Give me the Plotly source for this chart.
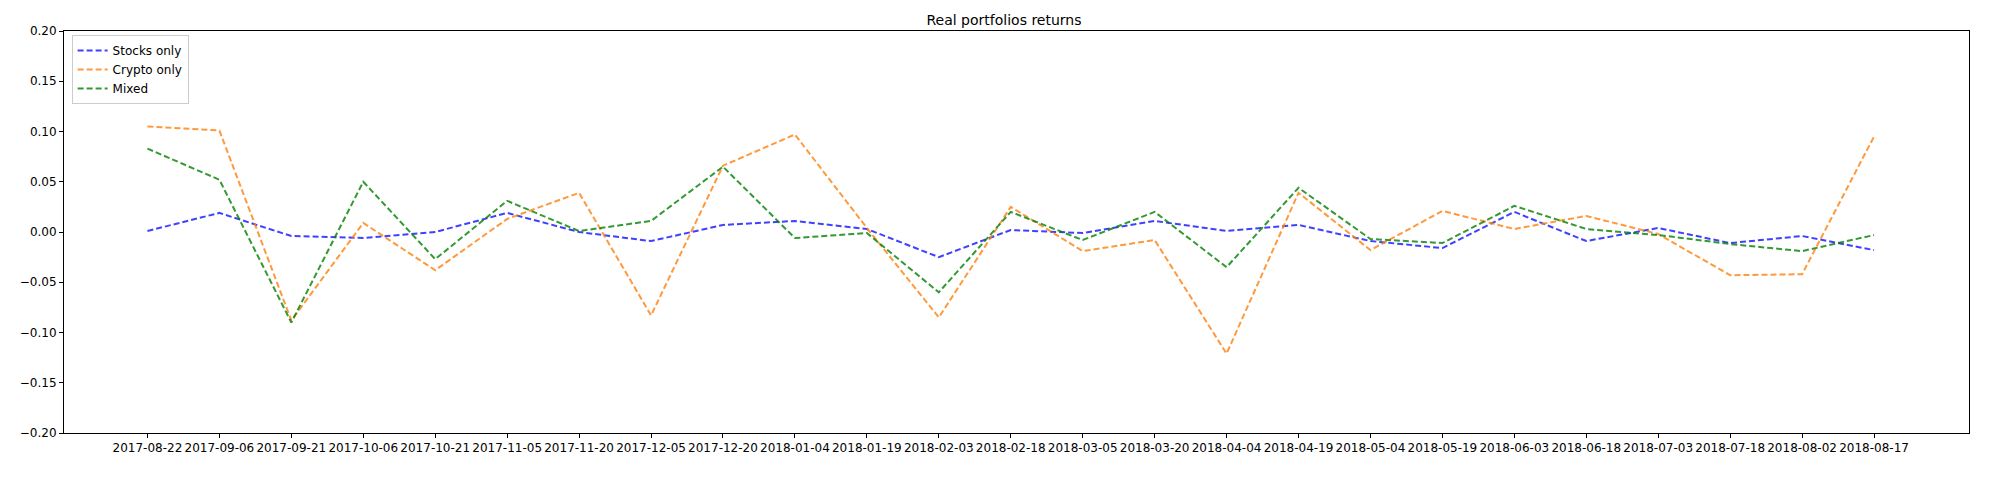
import plotly.graph_objects as go

dates = ["2017-08-22", "2017-09-06", "2017-09-21", "2017-10-06", "2017-10-21", "2017-11-05",
         "2017-11-20", "2017-12-05", "2017-12-20", "2018-01-04", "2018-01-19", "2018-02-03",
         "2018-02-18", "2018-03-05", "2018-03-20", "2018-04-04", "2018-04-19", "2018-05-04",
         "2018-05-19", "2018-06-03", "2018-06-18", "2018-07-03", "2018-07-18", "2018-08-02",
         "2018-08-17"]
stocks = [0.001, 0.019, -0.004, -0.006, 0.0, 0.019, 0.0, -0.009, 0.007, 0.011, 0.003, -0.025,
          0.002, -0.001, 0.011, 0.001, 0.007, -0.009, -0.016, 0.020, -0.009, 0.004, -0.011,
          -0.004, -0.018]
crypto = [0.105, 0.101, -0.088, 0.009, -0.038, 0.013, 0.039, -0.083, 0.066, 0.097, 0.004, -0.085,
          0.025, -0.019, -0.008, -0.121, 0.039, -0.018, 0.021, 0.003, 0.016, -0.002, -0.043,
          -0.042, 0.095]
mixed = [0.083, 0.052, -0.090, 0.050, -0.027, 0.031, 0.001, 0.011, 0.065, -0.006, -0.001, -0.060,
         0.020, -0.008, 0.020, -0.035, 0.044, -0.007, -0.011, 0.026, 0.003, -0.003, -0.012,
         -0.019, -0.003]

fig = go.Figure()
for name, vals, col in [("Stocks only", stocks, "rgba(0,0,255,0.75)"),
                        ("Crypto only", crypto, "rgba(255,127,14,0.8)"),
                        ("Mixed", mixed, "rgba(0,128,0,0.8)")]:
    fig.add_trace(go.Scatter(x=dates, y=vals, mode="lines", name=name,
                             line=dict(color=col, width=2, dash="6px,3px")))

axis = dict(showline=True, linecolor="black", mirror=True, ticks="outside", ticklen=4,
            tickcolor="black", showgrid=False, zeroline=False)
fig.update_layout(
    width=1992, height=492, plot_bgcolor="white", paper_bgcolor="white",
    font=dict(family="DejaVu Sans", size=12, color="black"),
    title=dict(text="Real portfolios returns", x=0.5, y=0.985, font=dict(size=14)),
    margin=dict(l=54, r=31, t=23, b=67),
    legend=dict(x=0.004, y=0.99, xanchor="left", yanchor="top", bordercolor="#cccccc",
                borderwidth=1, bgcolor="white"),
    xaxis=dict(axis, type="category", range=[-1.16, 25.32], tickvals=dates),
    yaxis=dict(axis, range=[-0.2, 0.2], dtick=0.05, tickformat=".2f"),
)
fig.write_html("out.html")
